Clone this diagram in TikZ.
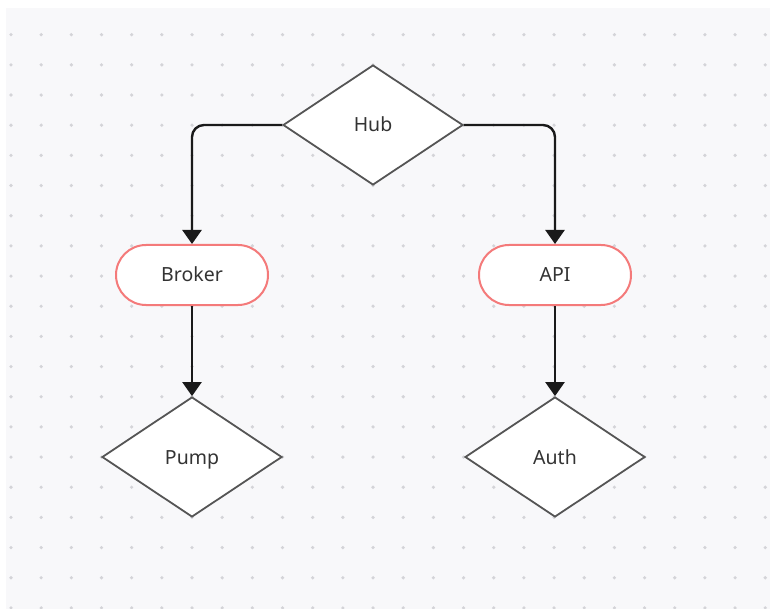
\documentclass[tikz,border=0pt]{standalone}
\usepackage{fontspec}
\setmainfont{Noto Sans}
\usetikzlibrary{shapes.geometric,arrows.meta}

\definecolor{panel}{HTML}{F8F8FA}
\definecolor{griddot}{HTML}{D4D4D8}
\definecolor{pinkline}{HTML}{F47A7A}
\definecolor{shapeline}{HTML}{555555}
\definecolor{labeltext}{HTML}{333333}
\definecolor{flowline}{HTML}{1A1A1A}

\tikzset{
	decision/.style={diamond, draw=shapeline, line width=1.8pt, fill=white,
		minimum width=180pt, minimum height=120pt, inner sep=0pt,
		text height=14pt, text depth=0pt,
		text=labeltext, font=\fontsize{19.5}{23}\selectfont},
	service/.style={rectangle, rounded corners=30pt, draw=pinkline, line width=2pt,
		fill=white, minimum width=152pt, minimum height=60pt,
		text height=14pt, text depth=0pt,
		text=labeltext, font=\fontsize{19.5}{23}\selectfont},
	flow/.style={draw=flowline, line width=2.4pt, rounded corners=12pt,
		-{Triangle[width=19pt,length=14pt]}}
}

\begin{document}
\begin{tikzpicture}[x=1pt,y=-1pt]
	\useasboundingbox (0,0) rectangle (770,609);
	% background panel with dot grid
	\fill[panel] (6,8) rectangle (770,609);
	\foreach \i in {0,...,25}
		\foreach \j in {0,...,19}
			\fill[griddot] (11+30.17*\i,34.7+30.17*\j) circle (1.8pt);

	\node[decision] (hub) at (373,125) {Hub};
	\node[service] (broker) at (192,275) {Broker};
	\node[service] (api) at (555,275) {API};
	\node[decision] (pump) at (192,457) {Pump};
	\node[decision] (auth) at (555,457) {Auth};

	\draw[flow] (hub.west) -| (broker.north);
	\draw[flow] (hub.east) -| (api.north);
	\draw[flow] (broker.south) -- (pump.north);
	\draw[flow] (api.south) -- (auth.north);
\end{tikzpicture}
\end{document}
